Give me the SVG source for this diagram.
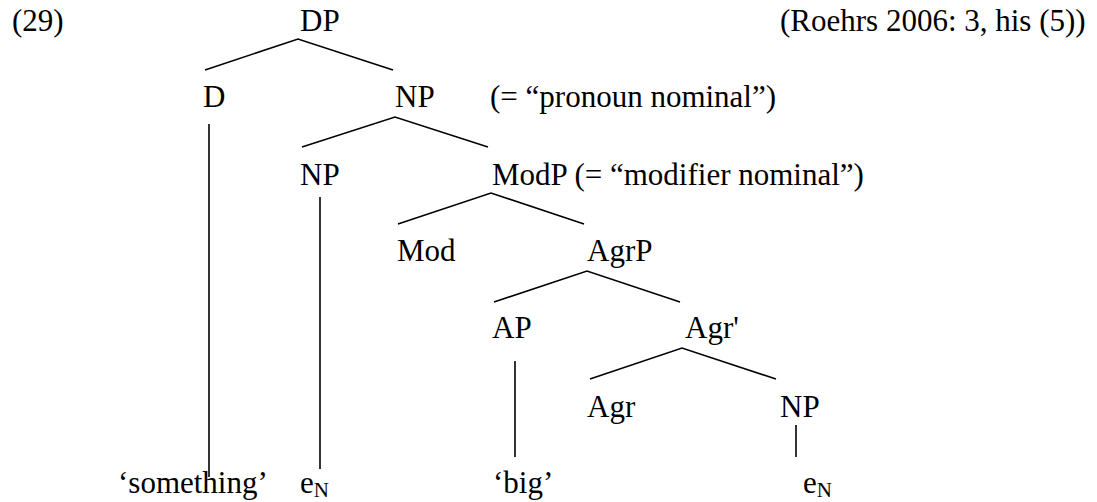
<svg xmlns="http://www.w3.org/2000/svg" width="1097" height="502" viewBox="0 0 1097 502">
<style>
text{font-family:"Liberation Serif","Times New Roman",serif;font-size:31px;fill:#000}
.sub{font-size:21px}
#connectors line,#connectors polyline{stroke:#000;stroke-width:1.6;fill:none}
</style>
<rect width="1097" height="502" fill="#fff"/>
<g id="connectors">
<polyline points="205,70 298,39 393,70"/>
<polyline points="302,147 395,117 488,147"/>
<polyline points="398,224 491,193 584,224"/>
<polyline points="494,302 587,271 680,302"/>
<polyline points="590,379 682,348 776,379"/>
<line x1="209" y1="124" x2="209" y2="477"/>
<line x1="320" y1="197" x2="320" y2="469"/>
<line x1="515" y1="361" x2="515" y2="457"/>
<line x1="796" y1="425" x2="796" y2="457"/>
</g>
<g id="label-29"><text x="12" y="31">(29)</text></g>
<g id="source"><text x="780" y="31">(Roehrs 2006: 3, his (5))</text></g>
<g id="node-DP"><text x="300" y="31">DP</text></g>
<g id="node-D"><text x="203" y="107">D</text></g>
<g id="node-NP1"><text x="395" y="107">NP</text><text x="490" y="107">(= “pronoun nominal”)</text></g>
<g id="node-NP2"><text x="300" y="185">NP</text></g>
<g id="node-ModP"><text x="492" y="185">ModP (= “modifier nominal”)</text></g>
<g id="node-Mod"><text x="397" y="261">Mod</text></g>
<g id="node-AgrP"><text x="587" y="261">AgrP</text></g>
<g id="node-AP"><text x="492" y="338">AP</text></g>
<g id="node-Agr1"><text x="685" y="338">Agr'</text></g>
<g id="node-Agr"><text x="587" y="417">Agr</text></g>
<g id="node-NP3"><text x="780" y="417">NP</text></g>
<g id="leaf-something"><text x="118" y="493">‘something’</text></g>
<g id="leaf-eN1"><text x="300" y="493">e<tspan class="sub" dy="4">N</tspan></text></g>
<g id="leaf-big"><text x="493" y="493">‘big’</text></g>
<g id="leaf-eN2"><text x="803" y="493">e<tspan class="sub" dy="4">N</tspan></text></g>
</svg>
